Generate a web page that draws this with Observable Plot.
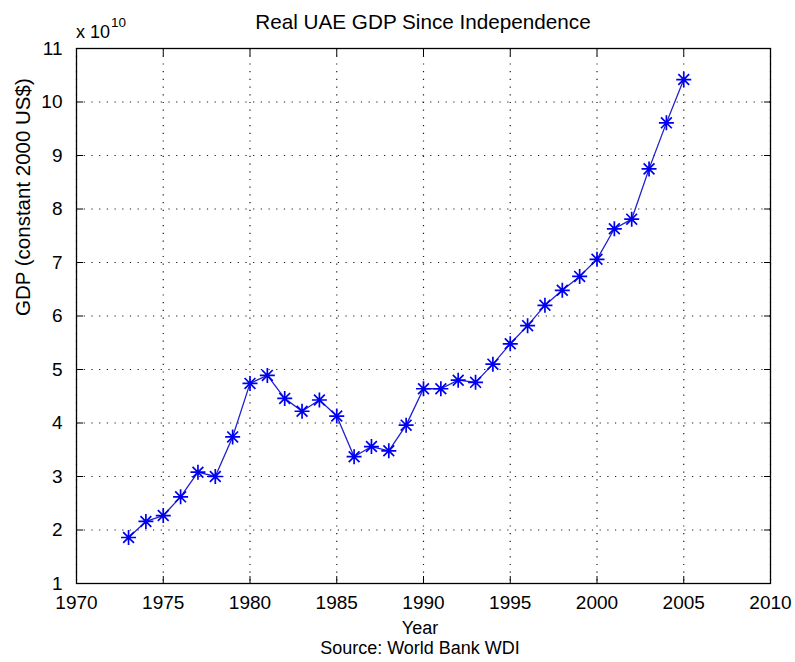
<!DOCTYPE html>
<html>
<head>
<meta charset="utf-8">
<script src="https://cdn.jsdelivr.net/npm/d3@7"></script>
<script src="https://cdn.jsdelivr.net/npm/@observablehq/plot@0.6"></script>
<style>
  body { margin: 0; background: #fff; font-family: "Liberation Sans", Arial, sans-serif; color: #000; }
  #wrap { width: 795px; position: relative; }
  #title { height: 32px; position: relative; }
  #title .t { position: absolute; left: 76px; width: 694px; top: 12px; text-align: center; font-size: 20.7px; line-height: 20px; }
  #exp { position: absolute; left: 76px; top: 23px; font-size: 18px; line-height: 18px; z-index: 2; white-space: nowrap; }
  #exp sup { font-size: 13.5px; position: relative; top: -9px; vertical-align: top; margin-left: 1px; }
  .below { padding-left: 70px; width: 700px; text-align: center; font-size: 18px; line-height: 20px; }
  #xlab { margin-top: 3px; }
</style>
</head>
<body>
<div id="wrap">
  <div id="title"><div class="t">Real UAE GDP Since Independence</div><span id="exp">x 10<sup>10</sup></span></div>
  <div id="chart"></div>
  <div id="xlab" class="below">Year</div>
  <div id="cap" class="below">Source: World Bank WDI</div>
</div>
<script>
// Real UAE GDP, constant 2000 US$, in units of 1e10
const years = [1973, 1974, 1975, 1976, 1977, 1978, 1979, 1980, 1981, 1982, 1983,
               1984, 1985, 1986, 1987, 1988, 1989, 1990, 1991, 1992, 1993, 1994,
               1995, 1996, 1997, 1998, 1999, 2000, 2001, 2002, 2003, 2004, 2005];
const gdp = [1.86, 2.16, 2.27, 2.62, 3.08, 3.00, 3.74, 4.74, 4.89, 4.46, 4.22,
             4.43, 4.13, 3.37, 3.56, 3.48, 3.96, 4.64, 4.64, 4.80, 4.76, 5.10,
             5.48, 5.82, 6.20, 6.48, 6.74, 7.06, 7.63, 7.81, 8.75, 9.61, 10.42];
const xTicks = [1970, 1975, 1980, 1985, 1990, 1995, 2000, 2005, 2010];
const yTicks = [1, 2, 3, 4, 5, 6, 7, 8, 9, 10, 11];
const yLabel = "GDP (constant 2000 US$)";

const data = years.map((year, i) => ({year, gdp: gdp[i]}));

// MATLAB-style "*" marker: plus + diagonal cross
const asterisk = {
  draw(ctx, size) {
    const r = Math.sqrt(size / Math.PI);
    const d = r * 0.72;
    ctx.moveTo(-r, 0); ctx.lineTo(r, 0);
    ctx.moveTo(0, -r); ctx.lineTo(0, r);
    ctx.moveTo(-d, -d); ctx.lineTo(d, d);
    ctx.moveTo(-d, d); ctx.lineTo(d, -d);
  }
};

const blank = () => "";
const fmt = d => String(d);
const gridStyle = {stroke: "#000", strokeOpacity: 0.9, strokeWidth: 1.2, strokeDasharray: "1.2,6.5"};
const chart = Plot.plot({
  width: 795,
  height: 583,
  marginTop: 16,
  marginBottom: 32,
  marginLeft: 76,
  marginRight: 25,
  style: {fontFamily: "'Liberation Sans', Arial, sans-serif", fontSize: "19px", color: "#000", background: "#fff"},
  x: {domain: [1970, 2010], ticks: xTicks, tickFormat: fmt},
  y: {domain: [1, 11], ticks: yTicks, tickFormat: fmt},
  marks: [
    Plot.ruleX(xTicks, {x: d => d, ...gridStyle}),
    Plot.ruleY(yTicks, {y: d => d, ...gridStyle}),
    // tick labels
    Plot.axisX(xTicks, {anchor: "bottom", tickSize: 0, tickPadding: 12, label: null, tickFormat: fmt}),
    Plot.axisY(yTicks, {anchor: "left", tickSize: 0, tickPadding: 14, label: null, tickFormat: fmt}),
    // inward tick marks on all four sides
    Plot.axisX(xTicks, {anchor: "bottom", tickSize: 7, dy: -7, label: null, tickFormat: blank}),
    Plot.axisX(xTicks, {anchor: "top", tickSize: 7, dy: 7, label: null, tickFormat: blank}),
    Plot.axisY(yTicks, {anchor: "left", tickSize: 7, dx: 7, label: null, tickFormat: blank}),
    Plot.axisY(yTicks, {anchor: "right", tickSize: 7, dx: -7, label: null, tickFormat: blank}),
    Plot.frame({stroke: "#000", strokeWidth: 1.3}),
    Plot.text([yLabel], {frameAnchor: "left", text: d => d, rotate: -90, dx: -53, fontSize: 20.5}),
    Plot.line(data, {x: "year", y: "gdp", stroke: "#1f1fd0", strokeWidth: 1.3}),
    Plot.dot(data, {x: "year", y: "gdp", symbol: asterisk, r: 7.5, stroke: "#0000f0", strokeWidth: 1.7, fill: "none"})
  ]
});
document.getElementById("chart").appendChild(chart);
</script>
</body>
</html>
